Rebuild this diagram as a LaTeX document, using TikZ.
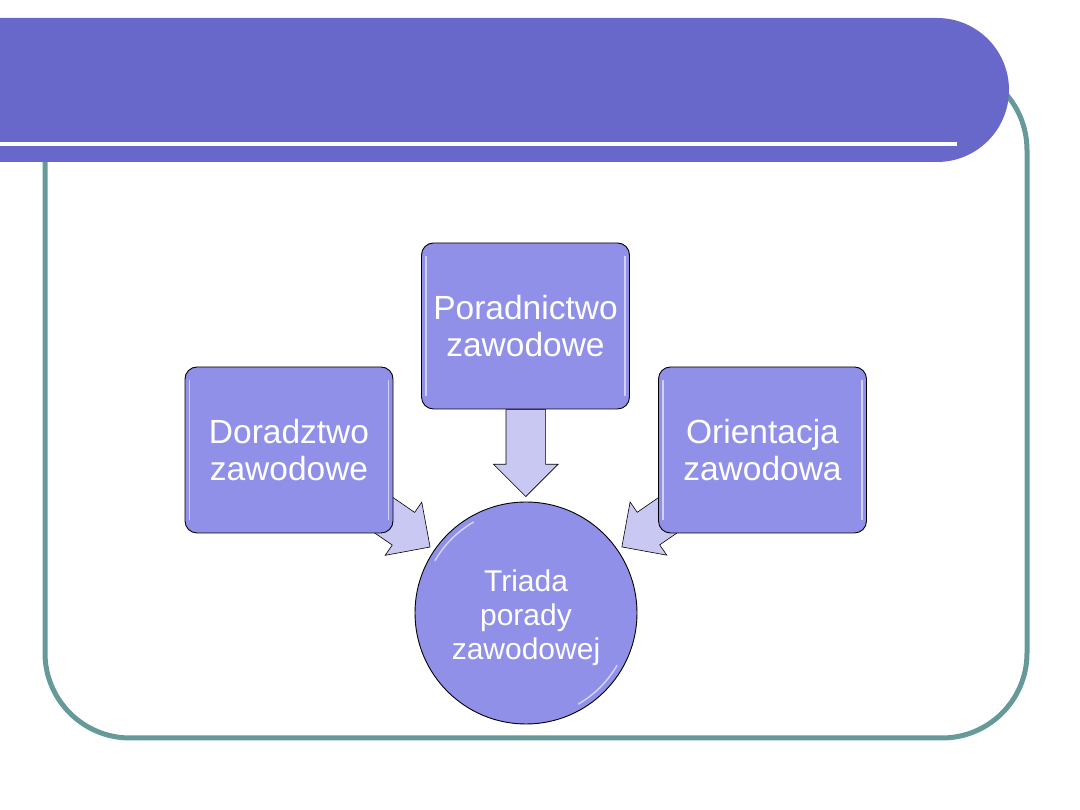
\documentclass[tikz,border=0pt]{standalone}
\usepackage{fontspec}
\setmainfont{Liberation Sans}
\usepackage{tikz}
\usetikzlibrary{positioning,calc,shapes.arrows,backgrounds}
\definecolor{banner}{HTML}{6868CB}
\definecolor{frameteal}{HTML}{669999}
\definecolor{boxfill}{HTML}{9090E8}
\definecolor{arrfill}{HTML}{C8C8F2}
\newcommand{\boxfont}{\fontsize{33.5}{37}\selectfont}
\newcommand{\hubfont}{\fontsize{30}{34}\selectfont}
\tikzset{
  box/.style  ={rectangle, rounded corners=12pt, draw=black, line width=0.9pt,
                fill=boxfill, minimum width=208pt, minimum height=166pt,
                inner sep=0pt, text=white, font=\boxfont, align=center},
  hub/.style  ={circle, draw=black, line width=0.9pt, fill=boxfill,
                minimum size=222pt, inner sep=0pt, text=white,
                font=\hubfont, align=center},
  blk/.style  ={single arrow, draw=black, line width=0.6pt, fill=arrfill,
                minimum height=87pt, minimum width=64pt,
                single arrow head extend=12.5pt, inner xsep=0pt,
                inner ysep=19.5pt, anchor=tip},
  gloss/.style={draw=white, line width=1.5pt, opacity=0.6, line cap=round},
}
\begin{document}
\begin{tikzpicture}[x=1pt,y=1pt]
\useasboundingbox (0,0) rectangle (1080,810);
% slide frame and title band
\draw[frameteal, line width=5pt, rounded corners=85pt] (45,72) rectangle (1027,745);
\fill[banner] (0,792) -- (937,792) arc[start angle=90, end angle=-90, radius=72] -- (0,648) -- cycle;
\draw[white, line width=4pt] (0,666) -- (957,666);
% the three sources and the triad
\node[box] (poz) at (525.5,484) {Poradnictwo\\zawodowe};
\node[box] (dor) at (289,360)   {Doradztwo\\zawodowe};
\node[box] (ori) at (762.5,360) {Orientacja\\zawodowa};
\node[hub] (tri) at (526,197)   {};
\node[text=white, font=\hubfont, align=center] (triTxt) at ([yshift=-5pt]tri.center) {Triada\\porady\\zawodowej};
\foreach \b in {poz,dor,ori}{
  \draw[gloss] ([xshift=5pt,yshift=-14pt]\b.north west) -- ([xshift=5pt,yshift=14pt]\b.south west);
  \draw[gloss] ([xshift=-5pt,yshift=-14pt]\b.north east) -- ([xshift=-5pt,yshift=14pt]\b.south east);
}
\draw[gloss] (tri.center) ++(150:105) arc[start angle=150, end angle=120, radius=105];
\draw[gloss] (tri.center) ++(-30:105) arc[start angle=-30, end angle=-60, radius=105];
% block arrows into the triad
\begin{scope}[on background layer]
\node[blk, rotate=-90]    (aPoz) at ($(tri.center)!116pt!(poz.center)$) {};
\node[blk, rotate=-34.5]  (aDor) at ($(tri.center)!116pt!(dor.center)$) {};
\node[blk, rotate=-145.4] (aOri) at ($(tri.center)!116pt!(ori.center)$) {};
\end{scope}
\end{tikzpicture}
\end{document}
